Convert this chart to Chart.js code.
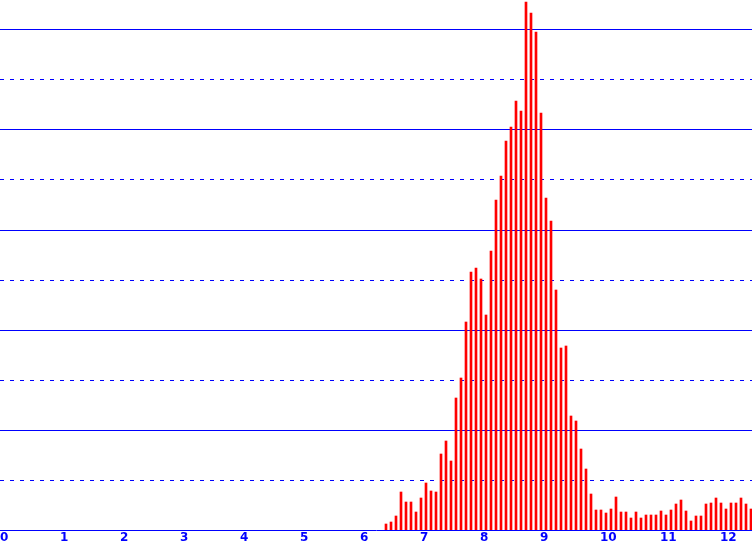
<!DOCTYPE html>
<html>
<head>
<meta charset="utf-8">
<script src="https://cdn.jsdelivr.net/npm/chart.js@4"></script>
<style>
html,body{margin:0;padding:0;background:#fff;}
#wrap{width:752px;height:550px;position:relative;}
</style>
</head>
<body>
<div id="wrap"><canvas id="c"></canvas></div>
<script>
// Histogram bins: first bin centre and bin width (x units)
const binStart = 6.4333;
const binWidth = 1 / 12;
// Bar heights (in grid units; one grid step = 1)
const counts = [
  0.12, 0.16, 0.28, 0.76, 0.56, 0.56, 0.36, 0.64, 0.94, 0.78,
  0.76, 1.52, 1.78, 1.38, 2.64, 3.04, 4.16, 5.16, 5.24, 5.02,
  4.30, 5.58, 6.60, 7.08, 7.78, 8.06, 8.58, 8.38, 10.56, 10.34,
  9.96, 8.34, 6.64, 6.18, 4.80, 3.64, 3.68, 2.28, 2.18, 1.62,
  1.22, 0.72, 0.40, 0.40, 0.34, 0.42, 0.66, 0.36, 0.36, 0.24,
  0.36, 0.24, 0.30, 0.30, 0.30, 0.38, 0.30, 0.40, 0.52, 0.60,
  0.38, 0.18, 0.28, 0.28, 0.52, 0.54, 0.64, 0.54, 0.42, 0.54,
  0.54, 0.64, 0.52, 0.42
];
const xTicks = [0,1,2,3,4,5,6,7,8,9,10,11,12];
const solidLines = [2,4,6,8,10];
const dottedLines = [1,3,5,7,9];

const points = counts.map((v, i) => ({ x: binStart + i * binWidth, y: v }));

const BLUE = '#0000ff';
const RED = '#ff0000';

new Chart(document.getElementById('c'), {
  type: 'bar',
  data: {
    datasets: [{
      data: points,
      backgroundColor: RED,
      borderWidth: 0,
      barThickness: 2,
      grouped: false
    }]
  },
  options: {
    responsive: true,
    maintainAspectRatio: false,
    animation: false,
    events: [],
    layout: { padding: 0 },
    plugins: { legend: { display: false }, tooltip: { enabled: false } },
    scales: {
      x: {
        type: 'linear',
        position: 'bottom',
        offset: false,
        min: 0,
        max: 752 / 60,
        afterBuildTicks: s => { s.ticks = xTicks.map(v => ({ value: v })); },
        afterFit: s => { s.height = 20; s.paddingLeft = 0; s.paddingRight = 0; },
        grid: { display: false, drawTicks: false, offset: false },
        border: { display: true, color: BLUE, width: 1 },
        ticks: {
          color: BLUE,
          align: 'start',
          padding: 1,
          maxRotation: 0,
          autoSkip: false,
          font: { family: 'DejaVu Sans', size: 12, weight: 'bold' }
        }
      },
      y: {
        type: 'linear',
        position: 'left',
        min: 0,
        max: 10.6,
        afterBuildTicks: s => { s.ticks = solidLines.map(v => ({ value: v })); },
        afterFit: s => { s.width = 0; },
        grid: { display: true, color: BLUE, lineWidth: 1, drawTicks: false },
        border: { display: false },
        ticks: { display: false }
      },
      y2: {
        type: 'linear',
        position: 'right',
        min: 0,
        max: 10.6,
        afterBuildTicks: s => { s.ticks = dottedLines.map(v => ({ value: v })); },
        afterFit: s => { s.width = 0; },
        grid: { display: true, color: BLUE, lineWidth: 1, drawTicks: false },
        border: { display: false, dash: [4, 6] },
        ticks: { display: false }
      }
    }
  }
});
</script>
</body>
</html>
